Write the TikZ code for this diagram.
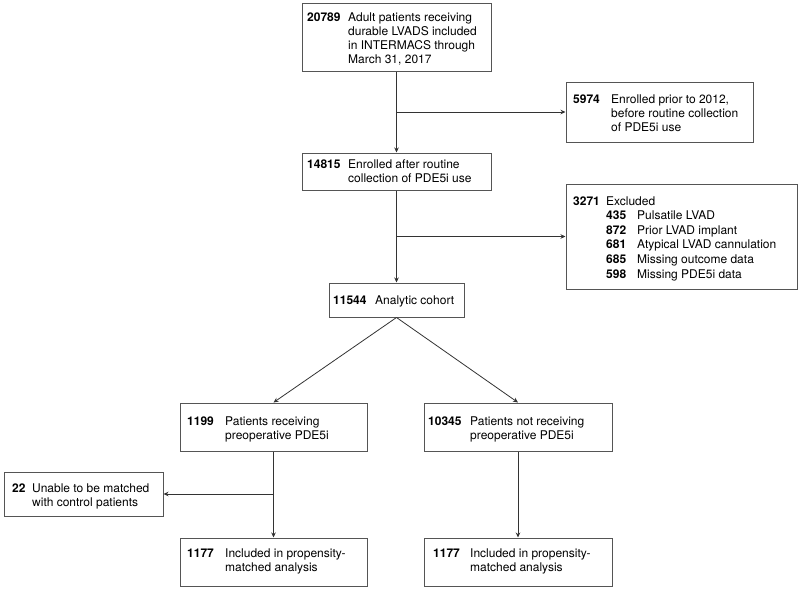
\documentclass[tikz,border=0pt]{standalone}
\usepackage{fontspec}
\setmainfont{TeX Gyre Heros}
\usetikzlibrary{arrows.meta}
\definecolor{boxgray}{HTML}{555555}
\definecolor{linegray}{HTML}{333333}
\begin{document}
\begin{tikzpicture}[x=1pt,y=-1pt,
  box/.style={draw=boxgray, line width=1pt, inner sep=0pt, fill=white},
  num/.style={anchor=base west, inner sep=0pt, font=\fontsize{12}{14}\selectfont\bfseries},
  txt/.style={anchor=base west, inner sep=0pt, font=\fontsize{12}{14}\selectfont},
  conn/.style={draw=linegray, line width=0.8pt},
  arr/.style={conn, -{Stealth[length=5pt,width=4.5pt]}}]
\useasboundingbox (0,0) rectangle (800,589);
% boxes
\node[box, minimum width=189pt, minimum height=68pt] (b1) at (396.5,37) {};
\node[box, minimum width=187pt, minimum height=60pt] (b2) at (659.5,112) {};
\node[box, minimum width=189pt, minimum height=37pt] (b3) at (396.5,171.5) {};
\node[box, minimum width=231pt, minimum height=105pt] (b4) at (681.5,236.5) {};
\node[box, minimum width=135pt, minimum height=34pt] (b5) at (396.5,300) {};
\node[box, minimum width=187pt, minimum height=48pt] (b6) at (273.5,427) {};
\node[box, minimum width=188pt, minimum height=48pt] (b7) at (518,427) {};
\node[box, minimum width=159pt, minimum height=44pt] (b8) at (83.5,494) {};
\node[box, minimum width=187pt, minimum height=48pt] (b9) at (273.5,562) {};
\node[box, minimum width=188pt, minimum height=48pt] (b10) at (518,562) {};
% texts
\node[num] (n1) at (307,21) {20789};
\node[txt] (t1) at (348,21) {\parbox[t]{140pt}{\raggedright Adult patients receiving\\durable LVADS included\\in INTERMACS through\\March 31, 2017}};
\node[num] (n2) at (573,103) {5974};
\node[txt] (t2) at (611,103) {\parbox[t]{140pt}{\raggedright Enrolled prior to 2012,\\before routine collection\\of PDE5i use}};
\node[num] (n3) at (307,168) {14815};
\node[txt] (t3) at (348,168) {\parbox[t]{140pt}{\raggedright Enrolled after routine\\collection of PDE5i use}};
\node[num] (n4) at (573,205) {3271};
\node[txt] (t4a) at (606,205) {\parbox[t]{40pt}{\fontsize{12}{14.6}\selectfont Excluded\\\textbf{435}\\\textbf{872}\\\textbf{681}\\\textbf{685}\\\textbf{598}}};
\node[txt] (t4b) at (637,219.6) {\parbox[t]{160pt}{\fontsize{12}{14.6}\selectfont\raggedright Pulsatile LVAD\\Prior LVAD implant\\Atypical LVAD cannulation\\Missing outcome data\\Missing PDE5i data}};
\node[num] (n5) at (333,304) {11544};
\node[txt] (t5) at (375,304) {Analytic cohort};
\node[num] (n6) at (187,425) {1199};
\node[txt] (t6) at (225,425) {\parbox[t]{140pt}{\raggedright Patients receiving\\preoperative PDE5i}};
\node[num] (n7) at (428,425) {10345};
\node[txt] (t7) at (470,425) {\parbox[t]{140pt}{\raggedright Patients not receiving\\preoperative PDE5i}};
\node[num] (n8) at (12,492) {22};
\node[txt] (t8) at (32,492) {\parbox[t]{130pt}{\raggedright Unable to be matched\\with control patients}};
\node[num] (n9) at (187,557) {1177};
\node[txt] (t9) at (225,557) {\parbox[t]{140pt}{\raggedright Included in propensity-\\matched analysis}};
\node[num] (n10) at (433,557) {1177};
\node[txt] (t10) at (470,557) {\parbox[t]{140pt}{\raggedright Included in propensity-\\matched analysis}};
% connectors
\coordinate (j1) at (b1.south |- b2.west);
\coordinate (j2) at (b3.south |- b4.west);
\coordinate (j3) at (b6.south |- b8.east);
\draw[arr] (b1.south) -- (b3.north);
\draw[arr] (j1) -- (b2.west);
\draw[arr] (b3.south) -- (b5.north);
\draw[arr] (j2) -- (b4.west);
\draw[arr] (b5.south) -- (b6.north);
\draw[arr] (b5.south) -- (b7.north);
\draw[arr] (b6.south) -- (b9.north);
\draw[arr] (j3) -- (b8.east);
\draw[arr] (b7.south) -- (b10.north);
\end{tikzpicture}
\end{document}
